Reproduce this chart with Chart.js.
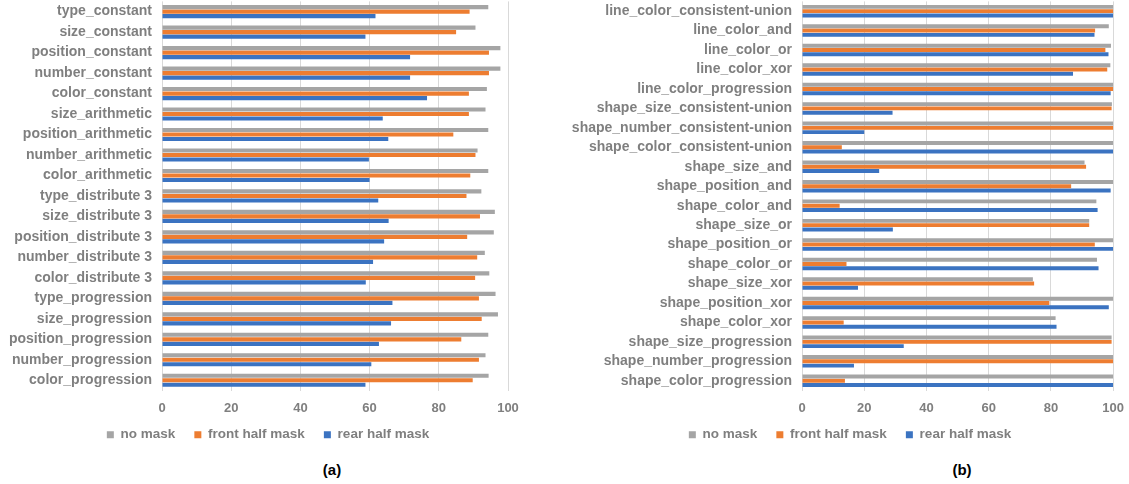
<!DOCTYPE html>
<html>
<head>
<meta charset="utf-8">
<script src="https://cdn.jsdelivr.net/npm/chart.js@4.4.1/dist/chart.umd.min.js"></script>
<style>
  body { margin: 0; background: #fff; width: 1129px; height: 484px; overflow: hidden; position: relative; font-family: "Liberation Sans", Arial, sans-serif; }
  .box { position: absolute; top: -17px; height: 474px; }
  .cap { position: absolute; top: 461px; font-weight: bold; font-size: 15px; color: #000; transform: translateX(-50%); }
</style>
</head>
<body>
<div class="box" style="left:0;width:540px"><canvas id="graficoA"></canvas></div>
<div class="box" style="left:560px;width:574px"><canvas id="graficoB"></canvas></div>
<div class="cap" style="left:332px">(a)</div>
<div class="cap" style="left:962px">(b)</div>
<script>
// (a)
var categoriasA = ['type_constant', 'size_constant', 'position_constant', 'number_constant', 'color_constant',
  'size_arithmetic', 'position_arithmetic', 'number_arithmetic', 'color_arithmetic',
  'type_distribute 3', 'size_distribute 3', 'position_distribute 3', 'number_distribute 3', 'color_distribute 3',
  'type_progression', 'size_progression', 'position_progression', 'number_progression', 'color_progression'];
var semMascaraA = [94.3, 90.6, 97.8, 97.8, 93.9, 93.5, 94.3, 91.2, 94.3, 92.3, 96.2, 95.9, 93.3, 94.6, 96.4, 97.1, 94.3, 93.5, 94.4];
var frenteA = [88.9, 85.0, 94.5, 94.5, 88.7, 88.7, 84.2, 90.6, 89.1, 88.0, 91.9, 88.2, 91.1, 90.5, 91.6, 92.4, 86.5, 91.6, 89.8];
var trasA = [61.7, 58.8, 71.7, 71.7, 76.6, 63.8, 65.4, 59.8, 60.0, 62.5, 65.5, 64.2, 61.0, 58.9, 66.6, 66.2, 62.7, 60.5, 58.8];

// (b)
var categoriasB = ['line_color_consistent-union', 'line_color_and', 'line_color_or', 'line_color_xor', 'line_color_progression',
  'shape_size_consistent-union', 'shape_number_consistent-union', 'shape_color_consistent-union',
  'shape_size_and', 'shape_position_and', 'shape_color_and', 'shape_size_or', 'shape_position_or', 'shape_color_or',
  'shape_size_xor', 'shape_position_xor', 'shape_color_xor',
  'shape_size_progression', 'shape_number_progression', 'shape_color_progression'];
var semMascaraB = [100, 98.6, 99.3, 99.1, 100, 99.6, 100, 100, 90.8, 100, 94.6, 92.3, 100, 94.8, 74.2, 100, 81.5, 99.5, 100, 100];
var frenteB = [100, 94.2, 97.5, 98.1, 100, 99.5, 100, 12.8, 91.3, 86.5, 12.1, 92.3, 94.1, 14.3, 74.6, 79.5, 13.4, 99.5, 100, 13.8];
var trasB = [100, 94.0, 98.5, 87.1, 99.2, 29.1, 20.0, 100, 24.8, 99.2, 95.0, 29.2, 100, 95.3, 18.0, 98.6, 81.8, 32.7, 16.7, 100];

var ticksX = [0, 20, 40, 60, 80, 100];
var nomes = ['no mask', 'front half mask', 'rear half mask'];
var cores = ['#a5a5a5', '#ed7d31', '#3b73c1'];
var cinza = '#7f7f7f';

// centraliza a legenda num ponto fixo do canvas e ajusta a altura
var centraLegenda = {
  id: 'centraLegenda',
  afterLayout: function (chart, args, opts) {
    var lg = chart.legend;
    if (!lg) return;
    lg.left = 0;
    lg.right = opts.centro * 2;
    lg.top = opts.topo;
  }
};

function grafico(id, labels, series, larguraEixo, padDir, centro) {
  var ctx = document.getElementById(id).getContext('2d');
  return new Chart(ctx, {
    type: 'bar',
    data: {
      labels: labels,
      datasets: series.map(function (s, i) {
        return {
          label: nomes[i],
          data: s,
          backgroundColor: cores[i],
          borderWidth: 0,
          categoryPercentage: 0.66,
          barPercentage: 0.92
        };
      })
    },
    plugins: [centraLegenda],
    options: {
      indexAxis: 'y',
      responsive: true,
      maintainAspectRatio: false,
      animation: false,
      layout: { padding: { top: 0, right: padDir, bottom: 0, left: 0 } },
      plugins: {
        tooltip: { enabled: false },
        centraLegenda: { centro: centro, topo: 426 },
        legend: {
          position: 'bottom',
          labels: {
            boxWidth: 7, boxHeight: 7, padding: 19,
            color: cinza,
            font: { family: 'Liberation Sans', size: 13.5, weight: 'bold' }
          }
        }
      },
      scales: {
        x: {
          min: 0, max: 100,
          afterBuildTicks: function (ax) { ax.ticks = ticksX.map(function (v) { return { value: v }; }); },
          afterFit: function (ax) { ax.height = 24; },
          grid: { color: '#d9d9d9', drawTicks: false },
          border: { display: false },
          ticks: { padding: 10, color: cinza, font: { family: 'Liberation Sans', size: 13, weight: 'bold' } }
        },
        y: {
          afterFit: function (ax) { ax.width = larguraEixo; },
          grid: { display: false, drawTicks: false },
          border: { display: false },
          ticks: { padding: 10, autoSkip: false, color: cinza, font: { family: 'Liberation Sans', size: 14, weight: 'bold' } }
        }
      }
    }
  });
}

grafico('graficoA', categoriasA, [semMascaraA, frenteA, trasA], 162, 32, 268);
grafico('graficoB', categoriasB, [semMascaraB, frenteB, trasB], 242, 0, 290);
</script>
</body>
</html>
